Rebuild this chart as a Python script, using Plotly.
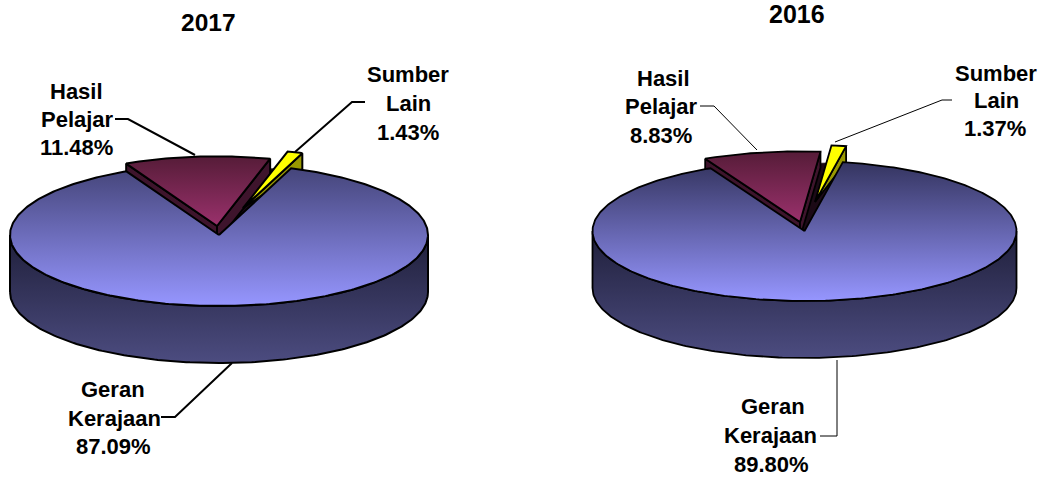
import numpy as np
import plotly.graph_objects as go

# ---- data ----
years = ["2017", "2016"]
categories = ["Geran Kerajaan", "Hasil Pelajar", "Sumber Lain"]
geran = [87.09, 89.80]
hasil = [11.48, 8.83]
sumber = [1.43, 1.37]

# ---- layout / style ----
W, H = 1043, 477
END_ANGLE = 116.3  # where Hasil ends and Geran begins (degrees)
PIES = [
    dict(cx=219, cy=235, rx=209, ry=71, depth=57, top0="#45457a", hasil_apex=(217, 226), hasil_r=205,
         sumber_apex=(243, 208), sumber_r=172, lw=2.0),
    dict(cx=804.5, cy=231, rx=212, ry=70, depth=57, top0="#34345f", hasil_apex=(800, 222), hasil_r=214,
         sumber_apex=(815, 202), sumber_r=172, lw=1.8),
]
WALL = 16
FONT = "Liberation Sans"
TITLE_POS = [(208, 22), (797, 14)]
TITLE_SIZE = [24.5, 25]
LABELS = [
    [("Hasil", 76, 91), ("Pelajar", 77, 119), ("{h:.2f}%", 76, 147),
     ("Sumber", 408, 74), ("Lain", 408, 103), ("{s:.2f}%", 408, 132),
     ("Geran", 113, 389), ("Kerajaan", 114, 418), ("{g:.2f}%", 113, 446)],
    [("Hasil", 663, 78), ("Pelajar", 661, 106), ("{h:.2f}%", 661, 135),
     ("Sumber", 996, 73), ("Lain", 996, 100), ("{s:.2f}%", 995, 128),
     ("Geran", 773, 406), ("Kerajaan", 770, 435), ("{g:.2f}%", 771, 464)],
]
LEADERS = [
    [([115, 128, 195], [119, 119, 155]), ([365, 352, 295], [102, 102, 152]), ([232, 175, 161], [363, 417, 417])],
    [([700, 714, 757], [106, 106, 150]), ([952, 942, 835], [100, 100, 142]), ([837, 837, 820], [360, 436, 436])],
]
LEADER_W = [2, 1]

fig = go.Figure()


def arc(ax, ay, rx, ry, a0, a1, n=None):
    n = n or max(2, int(abs(a1 - a0)) + 2)
    t = np.radians(np.linspace(a0, a1, n))
    return ax + rx * np.cos(t), ay - ry * np.sin(t)


def poly(x, y, lw, fill=None, grad=None):
    kw = dict(x=list(x) + [x[0]], y=list(y) + [y[0]], mode="lines", fill="toself",
              line=dict(color="#000000", width=lw), hoverinfo="skip", showlegend=False)
    if grad:
        # the y axis is reversed, so the scale runs bottom colour -> top colour
        kw["fillgradient"] = dict(type="vertical", colorscale=[[0, grad[1]], [1, grad[0]]])
        kw["fillcolor"] = grad[1]
    else:
        kw["fillcolor"] = fill
    fig.add_trace(go.Scatter(**kw))


def wall(p, q, d, lw, color, taper=False):
    near = 0 if taper else d
    poly([p[0], q[0], q[0], p[0]], [p[1], q[1], q[1] + d, p[1] + near], lw, fill=color)


for i, P in enumerate(PIES):
    ratio = P["ry"] / P["rx"]
    h_ang = hasil[i] * 3.6
    s_ang = sumber[i] * 3.6
    h1 = END_ANGLE
    h0 = h1 - h_ang
    s1 = h0
    s0 = s1 - s_ang
    lw = P["lw"]

    # dark backing of the notch in the main body
    xn0, yn0 = arc(P["cx"], P["cy"], P["rx"], P["ry"], s0, s0, 2)
    xn1, yn1 = arc(P["cx"], P["cy"], P["rx"], P["ry"], h1, h1, 2)
    poly([P["cx"], xn0[0], xn1[0]], [P["cy"], yn0[0], yn1[0]], 0.5, fill="#1c0a16")

    # Hasil side walls
    ax, ay = P["hasil_apex"]
    r = P["hasil_r"]
    xr, yr = arc(ax, ay, r, r * ratio, h0, h0, 2)
    xl, yl = arc(ax, ay, r, r * ratio, h1, h1, 2)
    wall((ax, ay), (xl[0], yl[0]), WALL, lw, "#3e142c")
    wall((ax, ay), (xr[0], yr[0]), WALL, lw, "#3e142c")

    # Sumber wedge
    bx, by = P["sumber_apex"]
    q = P["sumber_r"]
    xsr, ysr = arc(bx, by, q, q * ratio, s0, s0, 2)
    wall((bx, by), (xsr[0], ysr[0]), WALL, lw, "#999900", taper=True)
    xs, ys = arc(bx, by, q, q * ratio, s0, s1)
    poly([bx] + list(xs), [by] + list(ys), lw, fill="#ffff00")

    # Hasil top face
    xh, yh = arc(ax, ay, r, r * ratio, h0, h1)
    poly([ax] + list(xh), [ay] + list(yh), lw, grad=("#561c38", "#9a316c"))

    # Geran side
    xb0, yb0 = arc(P["cx"], P["cy"], P["rx"], P["ry"], 180, 360, 181)
    xb = list(xb0) + list(xb0[::-1])
    yb = list(yb0 + P["depth"]) + list(yb0[::-1])
    poly(xb, yb, lw, grad=("#1f1f3a", "#4c4c80"))

    # Geran top face, with the notch left by the two pulled-out slices
    xt, yt = arc(P["cx"], P["cy"], P["rx"], P["ry"], h1, s0 + 360, 360)
    poly([P["cx"]] + list(xt), [P["cy"]] + list(yt), lw, grad=(P["top0"], "#9696ff"))

    # leader lines
    for lx, ly in LEADERS[i]:
        fig.add_trace(go.Scatter(x=lx, y=ly, mode="lines", hoverinfo="skip", showlegend=False,
                                 line=dict(color="#000000", width=LEADER_W[i])))

    # labels
    for txt, x, y in LABELS[i]:
        fig.add_annotation(x=x, y=y, xref="x", yref="y", showarrow=False, xanchor="center", yanchor="middle",
                           text=txt.format(h=hasil[i], s=sumber[i], g=geran[i]),
                           font=dict(family=FONT, size=22, color="#000000", weight="bold"))
    fig.add_annotation(x=TITLE_POS[i][0], y=TITLE_POS[i][1], xref="x", yref="y", showarrow=False,
                       xanchor="center", yanchor="middle", text=years[i],
                       font=dict(family=FONT, size=TITLE_SIZE[i], color="#000000", weight="bold"))

fig.update_layout(width=W, height=H, margin=dict(l=0, r=0, t=0, b=0), plot_bgcolor="#ffffff",
                  paper_bgcolor="#ffffff", showlegend=False)
fig.update_xaxes(range=[0, W], visible=False, fixedrange=True)
fig.update_yaxes(range=[H, 0], visible=False, fixedrange=True)
fig.write_html("out.html", config=dict(displayModeBar=False),
               post_script="document.body.style.margin='0';")
